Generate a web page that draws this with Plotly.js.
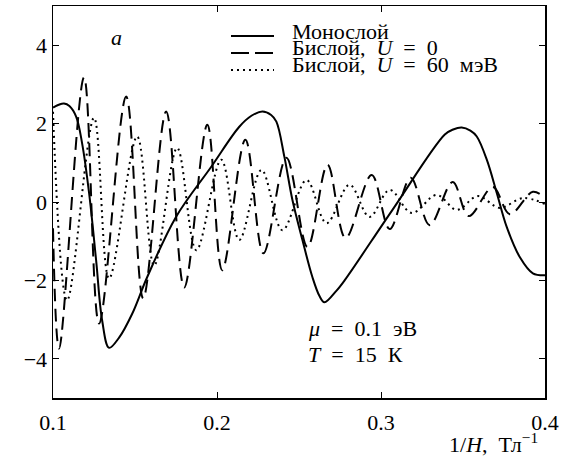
<!DOCTYPE html>
<html><head><meta charset="utf-8">
<script src="https://cdn.plot.ly/plotly-3.0.1.min.js"></script>
<style>html,body{margin:0;padding:0;background:#fff}</style>
</head><body><div id="chart" style="width:570px;height:459px"></div>
<script>
// Monolayer (solid)
const monoX = [0.100, 0.1035, 0.1067, 0.110, 0.1141, 0.1177, 0.122, 0.1263, 0.130, 0.1342, 0.1403, 0.1483, 0.1574, 0.175, 0.1965, 0.2136, 0.2210, 0.2277, 0.2330, 0.2362, 0.2411, 0.246, 0.2521, 0.2582, 0.2625, 0.2655, 0.2729, 0.2778, 0.307, 0.3389, 0.3440, 0.3492, 0.3545, 0.3584, 0.3645, 0.3706, 0.3767, 0.3847, 0.3926, 0.400];
const monoY = [2.41, 2.48, 2.51, 2.45, 2.18, 1.51, 0.23, -1.49, -3.03, -3.72, -3.46, -2.85, -1.92, -0.38, 0.9, 1.92, 2.2, 2.31, 2.22, 2.05, 1.15, 0.05, -0.97, -1.92, -2.4, -2.56, -2.26, -2.0, -0.2, 1.72, 1.85, 1.9, 1.82, 1.67, 1.08, 0.23, -0.64, -1.41, -1.82, -1.87];
// Bilayer, U = 0 (dashed)
const bi0X = [0.1, 0.1037, 0.1189, 0.1281, 0.1446, 0.1550, 0.1690, 0.1800, 0.1941, 0.2032, 0.2173, 0.2283, 0.2423, 0.2552, 0.2674, 0.2784, 0.2943, 0.3053, 0.3181, 0.3297, 0.3437, 0.3535, 0.3682, 0.3786, 0.3926, 0.4];
const bi0Y = [-0.67, -3.74, 3.18, -3.10, 2.69, -2.46, 2.31, -2.18, 1.97, -1.74, 1.59, -1.31, 1.13, -1.15, 0.95, -0.92, 0.69, -0.69, 0.62, -0.59, 0.51, -0.36, 0.38, -0.31, 0.26, 0.10];
// Bilayer, U = 60 meV (dotted)
const bi60X = [0.1, 0.1086, 0.125, 0.1342, 0.1513, 0.1617, 0.1757, 0.1874, 0.2026, 0.2136, 0.2271, 0.2399, 0.2546, 0.2668, 0.2808, 0.2930, 0.3053, 0.3187, 0.3340, 0.3462, 0.3590, 0.3724, 0.3865, 0.4];
const bi60Y = [2.3, -2.51, 2.15, -1.95, 1.67, -1.62, 1.38, -1.23, 1.08, -0.97, 0.82, -0.72, 0.56, -0.54, 0.44, -0.38, 0.31, -0.28, 0.18, -0.20, 0.15, -0.15, 0.10, -0.05];

const xTicks = [0.1, 0.2, 0.3, 0.4];
const xTickText = ['0.1', '0.2', '0.3', '0.4'];
const yTicks = [-4, -2, 0, 2, 4];
const yTickText = ['\u22124', '\u22122', '0', '2', '4'];
const S = '\u00a0';
const legendLabels = ['Монослой', 'Бислой,' + S + S + '<i>U</i>' + S + S + '=' + S + S + '0', 'Бислой,' + S + S + '<i>U</i>' + S + S + '=' + S + S + '60' + S + S + 'мэВ'];
const xTitle = '1/<i>H</i>,' + S + S + 'Тл<sup>\u22121</sup>';
const panelLabel = '<i>a</i>';
const noteLines = ['<i>μ</i>' + S + S + '=' + S + S + '0.1' + S + S + 'эВ', '<i>T</i>' + S + S + '=' + S + S + '15' + S + S + 'К'];

const FONT = '"Liberation Serif", "DejaVu Serif", serif';
const FS = 22;
const styles = [
  {color: '#000', width: 2, dash: 'solid'},
  {color: '#000', width: 2, dash: '13px,7px'},
  {color: '#000', width: 2, dash: '2px,4px'}
];
const series = [[monoX, monoY], [bi0X, bi0Y], [bi60X, bi60Y]];
const traces = series.map((s, i) => ({
  x: s[0], y: s[1], mode: 'lines', name: legendLabels[i], showlegend: false,
  line: Object.assign({shape: 'spline', smoothing: 1}, styles[i])
}));

// manual legend (paper coordinates)
const L = 53, R = 545, T = 6, B = 398;
const px = v => (v - L) / (R - L);
const py = v => (B - v) / (B - T);
const legRows = [36, 53, 70];
const legDash = ['solid', '18px,6px', '2px,4px'];
const shapes = legRows.map((r, i) => ({
  type: 'line', xref: 'paper', yref: 'paper',
  x0: px(231), x1: px(274), y0: py(r), y1: py(r),
  line: {color: '#000', width: 2, dash: legDash[i]}
}));
const annotations = legRows.map((r, i) => ({
  xref: 'paper', yref: 'paper', x: px(290), y: py(r - 5), xanchor: 'left', yanchor: 'middle',
  text: legendLabels[i], showarrow: false, font: {size: FS}
}));
annotations.push({xref: 'x', yref: 'y', x: 0.1385, y: 4.2, text: panelLabel, showarrow: false, font: {size: FS}});
annotations.push({xref: 'x', yref: 'y', x: 0.2545, y: -3.23, xanchor: 'left', text: noteLines[0], showarrow: false, font: {size: FS}});
annotations.push({xref: 'x', yref: 'y', x: 0.2545, y: -3.88, xanchor: 'left', text: noteLines[1], showarrow: false, font: {size: FS}});
annotations.push({xref: 'paper', yref: 'paper', x: px(540), y: py(443), xanchor: 'right', yanchor: 'middle', text: xTitle, showarrow: false, font: {size: FS}});

const axisCommon = {
  ticks: 'inside', ticklen: 6, tickwidth: 1, tickcolor: '#000',
  showline: true, linewidth: 1.5, linecolor: '#000', mirror: 'ticks',
  showgrid: false, zeroline: false, tickfont: {size: FS, family: FONT}
};
const layout = {
  width: 570, height: 459, margin: {l: 53, r: 25, t: 6, b: 61},
  paper_bgcolor: '#fff', plot_bgcolor: '#fff',
  font: {family: FONT, size: FS, color: '#000'},
  showlegend: false,
  xaxis: Object.assign({range: [0.1, 0.4], tickmode: 'array', tickvals: xTicks, ticktext: xTickText, ticklabelstandoff: 4}, axisCommon),
  yaxis: Object.assign({range: [-5, 5], tickmode: 'array', tickvals: yTicks, ticktext: yTickText}, axisCommon),
  shapes: shapes, annotations: annotations
};
Plotly.newPlot('chart', traces, layout, {staticPlot: true});
</script></body></html>
